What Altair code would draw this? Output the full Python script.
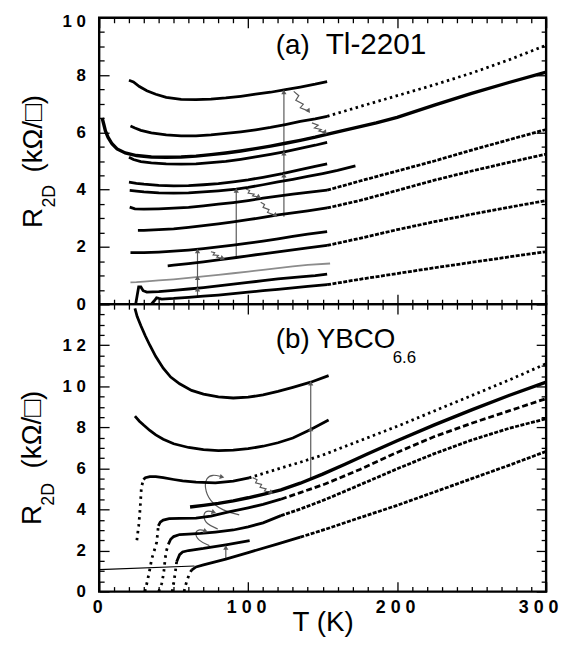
import altair as alt
import pandas as pd

# ================= Panel (a): Tl-2201 =================
A_T = [20, 23, 27, 32, 38, 45, 55, 65, 75, 85, 95, 105, 115, 125, 135, 145, 153]
A_R = [7.82, 7.76, 7.6, 7.45, 7.33, 7.22, 7.15, 7.14, 7.16, 7.2, 7.26, 7.33, 7.4, 7.49, 7.58, 7.68, 7.77]
B_T = [21, 24, 28, 35, 45, 55, 65, 75, 85, 95, 105, 115, 125, 135, 145, 153]
B_R = [6.22, 6.15, 6.07, 5.98, 5.91, 5.88, 5.88, 5.91, 5.96, 6.02, 6.09, 6.17, 6.27, 6.38, 6.47, 6.56]
B2_T = [153, 175, 200, 225, 250, 275, 300]
B2_R = [6.56, 6.9, 7.28, 7.66, 8.07, 8.53, 9.04]
C_T = [2, 3, 4.2, 6, 8.6, 12, 17.5, 25, 35, 45, 55, 65, 75, 85, 95, 105, 115, 125, 135, 145, 152,
       165, 186, 200, 225, 250, 275, 300]
C_R = [6.5, 6.3, 6.05, 5.82, 5.6, 5.42, 5.28, 5.19, 5.14, 5.13, 5.14, 5.17, 5.22, 5.28, 5.35, 5.43,
       5.52, 5.62, 5.72, 5.83, 5.92, 6.08, 6.33, 6.52, 6.95, 7.36, 7.74, 8.1]
D_T = [20, 23, 28, 35, 45, 55, 65, 75, 85, 95, 105, 115, 125, 135, 145, 153]
D_R = [5.13, 5.05, 4.98, 4.93, 4.9, 4.89, 4.9, 4.94, 4.99, 5.06, 5.14, 5.23, 5.33, 5.44, 5.55, 5.65]
E_T = [20, 25, 30, 40, 50, 60, 70, 80, 90, 100, 110, 123, 135, 145, 153]
E_R = [4.26, 4.22, 4.19, 4.15, 4.13, 4.14, 4.17, 4.21, 4.27, 4.34, 4.43, 4.56, 4.7, 4.81, 4.9]
F_T = [20.5, 25, 30, 40, 50, 60, 70, 80, 92, 100, 110, 120, 130, 140, 150, 160, 172]
F_R = [3.97, 3.95, 3.92, 3.89, 3.88, 3.89, 3.92, 3.96, 4.02, 4.08, 4.17, 4.27, 4.36, 4.46, 4.56, 4.67, 4.83]
G_T = [20.5, 24, 30, 40, 50, 60, 70, 80, 90, 100, 110, 120, 130, 140, 153]
G_R = [3.39, 3.33, 3.32, 3.33, 3.35, 3.38, 3.43, 3.49, 3.55, 3.62, 3.7, 3.77, 3.84, 3.9, 3.98]
G2_T = [153, 175, 200, 225, 250, 275, 300]
G2_R = [3.98, 4.3, 4.65, 5.0, 5.38, 5.74, 6.1]
H_T = [26, 30, 40, 50, 60, 70, 80, 90, 100, 110, 120, 130, 140, 153]
H_R = [2.58, 2.58, 2.6, 2.63, 2.68, 2.74, 2.8, 2.87, 2.95, 3.03, 3.12, 3.19, 3.26, 3.36]
H2_T = [153, 175, 200, 225, 250, 275, 300]
H2_R = [3.36, 3.62, 3.97, 4.33, 4.65, 4.95, 5.24]
I_T = [21, 25, 30, 40, 50, 60, 70, 80, 90, 100, 110, 120, 130, 140, 153]
I_R = [1.8, 1.8, 1.8, 1.82, 1.85, 1.89, 1.94, 2.0, 2.06, 2.13, 2.2, 2.28, 2.37, 2.45, 2.53]
J_T = [46, 50, 60, 70, 80, 92, 100, 110, 120, 130, 140, 153]
J_R = [1.34, 1.36, 1.42, 1.48, 1.55, 1.63, 1.69, 1.76, 1.83, 1.9, 1.97, 2.05]
J2_T = [153, 175, 200, 225, 250, 275, 300]
J2_R = [2.05, 2.3, 2.6, 2.88, 3.14, 3.38, 3.62]
K_T = [21, 25, 30, 40, 50, 60, 70, 80, 90, 100, 110, 120, 130, 140, 155]
K_R = [0.76, 0.77, 0.79, 0.83, 0.87, 0.92, 0.97, 1.02, 1.08, 1.14, 1.2, 1.26, 1.32, 1.37, 1.42]
L_T = [24.5, 25.5, 26.5, 28, 29.5, 32, 40, 50, 60, 70, 80, 90, 100, 110, 120, 135, 145, 153]
L_R = [0.0, 0.3, 0.6, 0.6, 0.47, 0.42, 0.44, 0.48, 0.53, 0.58, 0.64, 0.7, 0.76, 0.82, 0.88, 0.95, 1.0, 1.05]
M_T = [35, 37, 38.5, 40, 42, 50, 60, 70, 80, 90, 100, 110, 120, 130, 140, 153]
M_R = [0.0, 0.12, 0.22, 0.2, 0.18, 0.2, 0.24, 0.28, 0.32, 0.37, 0.42, 0.47, 0.52, 0.57, 0.62, 0.68]
M2_T = [153, 175, 200, 225, 250, 275, 300]
M2_R = [0.68, 0.87, 1.07, 1.27, 1.46, 1.65, 1.83]

TOP_CURVES = [
    ("A", "solid", A_T, A_R), ("B", "solid", B_T, B_R), ("B2", "dots", B2_T, B2_R),
    ("C", "thick", C_T, C_R), ("D", "solid", D_T, D_R), ("E", "solid", E_T, E_R),
    ("F", "solid", F_T, F_R), ("G", "solid", G_T, G_R), ("G2", "dense", G2_T, G2_R),
    ("H", "solid", H_T, H_R), ("H2", "dense", H2_T, H2_R), ("I", "solid", I_T, I_R),
    ("J", "solid", J_T, J_R), ("J2", "dense", J2_T, J2_R), ("K", "grey", K_T, K_R),
    ("L", "solid", L_T, L_R), ("M", "solid", M_T, M_R), ("M2", "dense", M2_T, M2_R),
]

# arrows (grey annotations) in panel (a)
TOP_ARROWS = [
    ("a1", "arrow", [66, 66], [0.28, 1.9]),
    ("a2", "arrow", [92, 92], [1.63, 4.02]),
    ("a3", "arrow", [124, 124], [3.05, 7.47]),
    ("z1", "arrow", [130.6, 134, 132, 137, 135, 140.6], [7.43, 7.28, 7.12, 6.98, 6.86, 6.74]),
    ("z2", "arrow", [142.8, 147, 144.5, 149, 147.5, 151.7], [6.33, 6.25, 6.15, 6.1, 6.05, 5.99]),
    ("z3", "arrow", [98.5, 101, 100, 104, 103, 107.3], [4.02, 3.97, 3.88, 3.84, 3.78, 3.74]),
    ("z4", "arrow", [108.4, 111, 110, 114, 113, 118.4], [3.56, 3.48, 3.38, 3.3, 3.2, 3.1]),
    ("z5", "arrow", [75, 77.5, 76.5, 80, 79, 83], [1.83, 1.8, 1.72, 1.7, 1.64, 1.6]),
]
TOP_HEAD_T = [66, 66, 66, 92, 124, 124, 124, 140.6, 151.7, 107.3, 118.4, 83]
TOP_HEAD_R = [0.52, 0.92, 1.86, 3.97, 4.5, 5.27, 7.41, 6.74, 5.99, 3.74, 3.1, 1.6]
TOP_HEAD_A = [0, 0, 0, 0, 0, 0, 0, 145, 145, 120, 135, 110]

# ================= Panel (b): YBCO6.6 =================
P_T = [24, 25.5, 28, 31, 34, 38, 43, 48, 54, 62, 70, 80, 90, 100, 110, 120, 130, 142, 154]
P_R = [13.8, 13.4, 12.95, 12.45, 12.0, 11.45, 10.88, 10.45, 10.12, 9.8, 9.62, 9.48, 9.43, 9.47,
       9.58, 9.75, 9.95, 10.2, 10.52]
Q_T = [24, 27, 30, 34, 38, 43, 50, 60, 70, 80, 90, 100, 110, 120, 130, 142, 154]
Q_R = [8.55, 8.3, 8.1, 7.85, 7.63, 7.42, 7.2, 7.02, 6.92, 6.87, 6.89, 6.96, 7.08, 7.25, 7.48, 7.9, 8.36]
S0_T = [25.3, 25.8, 26.5, 27.2, 27.8, 28.3, 29.7]
S0_R = [2.5, 2.8, 3.2, 3.77, 4.4, 5.06, 5.46]
S1_T = [29.7, 31, 34, 38, 43, 50, 56, 65, 78, 90, 100.6]
S1_R = [5.46, 5.55, 5.6, 5.6, 5.55, 5.46, 5.39, 5.33, 5.3, 5.38, 5.54]
S2_T = [100.6, 110, 122, 135, 150, 175, 200, 225, 250, 275, 300]
S2_R = [5.54, 5.75, 6.02, 6.3, 6.65, 7.35, 8.05, 8.8, 9.55, 10.3, 11.1]
U_T = [61, 70, 80, 90, 100, 110, 122, 135, 150, 165, 180, 200, 225, 250, 275, 300]
U_R = [4.12, 4.2, 4.3, 4.42, 4.57, 4.74, 4.95, 5.28, 5.72, 6.2, 6.7, 7.35, 8.12, 8.85, 9.55, 10.2]
V0_T = [30.7, 32, 33.5, 35.3, 37, 38.6, 39.3, 39.7]
V0_R = [0.0, 0.4, 0.9, 1.6, 2.0, 2.4, 2.9, 3.2]
V1_T = [39.7, 41, 43, 47, 54, 65, 75, 87, 100, 110, 122]
V1_R = [3.2, 3.38, 3.48, 3.55, 3.57, 3.58, 3.68, 3.88, 4.08, 4.25, 4.5]
V2_T = [122, 135, 152, 175, 200, 225, 250, 275, 300]
V2_R = [4.5, 4.82, 5.25, 5.95, 6.78, 7.55, 8.2, 8.8, 9.4]
W0_T = [40, 42, 43.3, 44.3, 45, 46.4]
W0_R = [0.0, 0.4, 0.9, 1.6, 1.95, 2.3]
W1_T = [46.4, 48, 50, 54, 60, 68, 78, 90, 100, 110, 122]
W1_R = [2.3, 2.55, 2.68, 2.78, 2.8, 2.83, 2.9, 3.0, 3.15, 3.35, 3.7]
W2_T = [122, 135, 152, 175, 200, 225, 250, 275, 300]
W2_R = [3.7, 4.02, 4.49, 5.2, 5.98, 6.72, 7.38, 7.95, 8.42]
X0_T = [49, 50, 51, 52]
X0_R = [0.0, 0.4, 0.9, 1.45]
X1_T = [52, 54, 56, 60, 70, 85, 101]
X1_R = [1.45, 1.8, 1.93, 2.0, 2.1, 2.28, 2.48]
Y0_T = [57, 58, 59, 60.5, 62]
Y0_R = [0.0, 0.3, 0.55, 0.85, 1.05]
Y1_T = [62, 65, 70, 85, 100, 120, 135]
Y1_R = [1.05, 1.2, 1.3, 1.58, 1.9, 2.32, 2.65]
Y2_T = [135, 152, 175, 200, 225, 250, 275, 300]
Y2_R = [2.65, 3.04, 3.6, 4.2, 4.85, 5.5, 6.15, 6.83]
FIT_T = [0, 64]
FIT_R = [1.07, 1.25]

BOT_CURVES = [
    ("P", "solid", P_T, P_R), ("Q", "solid", Q_T, Q_R),
    ("S0", "trans", S0_T, S0_R), ("S1", "solid", S1_T, S1_R), ("S2", "dots", S2_T, S2_R),
    ("U", "thick", U_T, U_R),
    ("V0", "trans", V0_T, V0_R), ("V1", "solid", V1_T, V1_R), ("V2", "dash", V2_T, V2_R),
    ("W0", "trans", W0_T, W0_R), ("W1", "solid", W1_T, W1_R), ("W2", "dense", W2_T, W2_R),
    ("X0", "trans", X0_T, X0_R), ("X1", "solid", X1_T, X1_R),
    ("Y0", "trans", Y0_T, Y0_R), ("Y1", "solid", Y1_T, Y1_R), ("Y2", "dense", Y2_T, Y2_R),
    ("fit", "thin", FIT_T, FIT_R),
]
BOT_ARROWS = [
    ("b1", "arrow", [142, 142], [5.45, 10.2]),
    ("b2", "arrow", [85, 85], [1.6, 2.2]),
    ("bz", "arrow", [103, 106, 105, 109, 108, 112, 111, 115.5], [5.55, 5.45, 5.3, 5.22, 5.08, 5.0, 4.9, 4.82]),
    ("c1", "arc", [94, 83, 74, 70.7, 71.8, 76.3, 82], [3.74, 3.93, 4.42, 5.06, 5.55, 5.71, 5.6]),
    ("c2", "arc", [79.6, 71.8, 69.6, 71.8, 77], [3.05, 3.29, 3.69, 3.97, 3.88]),
    ("c3", "arc", [74, 66.3, 64, 67.4, 71.5], [2.24, 2.48, 2.89, 3.05, 2.95]),
]
BOT_HEAD_T = [142, 142, 85, 115.5, 82.5, 77, 71.5]
BOT_HEAD_R = [7.92, 10.15, 2.15, 4.82, 5.58, 3.86, 2.94]
BOT_HEAD_A = [0, 0, 0, 125, 105, 110, 110]

# ---- text annotations: (text, T, R, size, angle, align, baseline) ----
TOP_TEXT = [
    ("(a)", 118.5, 8.72, 28, 0, "left", "alphabetic"),
    ("Tl-2201", 152, 8.72, 30, 0, "left", "alphabetic"),
    ("R", -44, 3.01, 28, 270, "center", "middle"),
    ("2D", -33.3, 3.77, 18, 270, "center", "middle"),
    ("(kΩ/□)", -44, 5.95, 28, 270, "center", "middle"),
]
BOT_TEXT = [
    ("(b) YBCO", 118.5, 11.85, 28, 0, "left", "alphabetic"),
    ("6.6", 197, 11.13, 17, 0, "left", "alphabetic"),
    ("R", -44.6, 3.73, 28, 270, "center", "middle"),
    ("2D", -33.9, 4.74, 18, 270, "center", "middle"),
    ("(kΩ/□)", -44.6, 7.89, 28, 270, "center", "middle"),
]

X_TICKS = list(range(0, 301, 10))
Y_TICKS_A = [v / 2 for v in range(0, 21)]
Y_TICKS_B = [v / 2 for v in range(0, 29)]

GREY = "#5a5a5a"
FONT = "Liberation Sans"
STYLES = {
    "solid": dict(color="black", strokeWidth=2.8),
    "thick": dict(color="black", strokeWidth=3.4),
    "grey": dict(color="#8c8c8c", strokeWidth=1.8),
    "dots": dict(color="black", strokeWidth=2.8, strokeDash=[2.5, 3.5]),
    "dense": dict(color="black", strokeWidth=2.8, strokeDash=[4, 1.5]),
    "dash": dict(color="black", strokeWidth=2.8, strokeDash=[6, 3]),
    "trans": dict(color="black", strokeWidth=2.8, strokeDash=[2.5, 4.5]),
    "thin": dict(color="black", strokeWidth=1.1),
    "arrow": dict(color=GREY, strokeWidth=1.2),
    "arc": dict(color=GREY, strokeWidth=1.2, interpolate="basis"),
}


def to_df(spec):
    rows = []
    for key, style, T, R in spec:
        for i, (t, r) in enumerate(zip(T, R)):
            rows.append({"key": key, "style": style, "T": t, "R": r, "i": i})
    return pd.DataFrame(rows)


SPACED = "join(split(format(datum.value, 'd'), ''), ' ')"


def make_panel(curves, arrows, head_t, head_r, head_a, texts, ydom, yticks, ylabel_test,
               height, xlabels, ylab_offset):
    xs = alt.Scale(domain=[0, 300], nice=False, zero=False)
    ys = alt.Scale(domain=ydom, nice=False, zero=False)
    xtick = {"expr": "datum.value % 100 === 0 ? -10 : -5"}
    ytick = {"expr": "datum.value % 2 === 0 ? -10 : -5"}
    common = dict(minExtent=0, offset=0)
    if xlabels:
        ax_b = alt.Axis(orient="bottom", values=X_TICKS, tickSize=xtick,
                        labelExpr=f"datum.value % 100 === 0 ? {SPACED} : ''",
                        labelFont=FONT, labelFontSize=18, labelFontWeight="bold",
                        labelPadding=17, labelFlush=False, labelOverlap=False,
                        labelOffset={"expr": "datum.value === 300 ? -8 : -2"},
                        title="T  (K)", titleFont=FONT, titleFontSize=28,
                        titleFontWeight="normal", titlePadding=-13, titleColor="black",
                        labelColor="black", **common)
    else:
        ax_b = alt.Axis(orient="bottom", values=X_TICKS, tickSize=xtick, labels=False,
                        title=None, **common)
    ax_l = alt.Axis(orient="left", values=yticks, tickSize=ytick,
                    labelExpr=f"({ylabel_test}) ? {SPACED} : ''",
                    labelFont=FONT, labelFontSize=17, labelFontWeight="bold",
                    labelPadding=24, labelOverlap=False, labelColor="black", title=None,
                    labelOffset={"expr": ylab_offset}, **common)
    ax_t = alt.Axis(orient="top", values=X_TICKS, tickSize=xtick, labels=False, title=None,
                    **common)
    ax_r = alt.Axis(orient="right", values=yticks, tickSize=ytick, labels=False, title=None,
                    **common)

    x_enc = alt.X("T:Q", scale=xs, axis=ax_b)
    y_enc = alt.Y("R:Q", scale=ys, axis=ax_l)

    layers = []
    cdf = to_df(curves + arrows)
    for style in ["arrow", "arc", "thin", "grey", "solid", "thick", "dots", "dense", "dash", "trans"]:
        sub = cdf[cdf["style"] == style]
        if len(sub) == 0:
            continue
        layers.append(
            alt.Chart(sub).mark_line(clip=True, **STYLES[style]).encode(
                x=x_enc, y=y_enc, detail="key:N", order="i:Q")
        )
    heads = pd.DataFrame({"T": head_t, "R": head_r, "ang": head_a})
    layers.append(
        alt.Chart(heads).mark_point(shape="triangle-up", filled=True, size=28, color=GREY,
                                    opacity=1).encode(
            x=x_enc, y=y_enc, angle=alt.Angle("ang:Q", scale=None))
    )
    for (txt, t, r, size, ang, align, base) in texts:
        tdf = pd.DataFrame({"T": [t], "R": [r], "txt": [txt]})
        layers.append(
            alt.Chart(tdf).mark_text(font=FONT, fontSize=size, angle=ang, align=align,
                                     baseline=base, color="black").encode(
                x=x_enc, y=y_enc, text="txt:N")
        )
    inner = alt.layer(*layers)
    carrier = alt.Chart(pd.DataFrame({"T": [0], "R": [0]})).mark_point(opacity=0).encode(
        x=alt.X("T:Q", scale=xs, axis=ax_t), y=alt.Y("R:Q", scale=ys, axis=ax_r))
    return alt.layer(inner, carrier).resolve_scale(x="independent", y="independent").properties(
        width=451, height=height)


top = make_panel(TOP_CURVES, TOP_ARROWS, TOP_HEAD_T, TOP_HEAD_R, TOP_HEAD_A, TOP_TEXT,
                 [0, 10], Y_TICKS_A, "datum.value % 2 === 0", 289, False,
                 "datum.value === 10 ? 3.7 : 0")
bot = make_panel(BOT_CURVES, BOT_ARROWS, BOT_HEAD_T, BOT_HEAD_R, BOT_HEAD_A, BOT_TEXT,
                 [0, 14], Y_TICKS_B, "datum.value % 2 === 0 && datum.value < 14", 290, True,
                 "0")

chart = alt.vconcat(top, bot, spacing=0, bounds="flush").properties(
    padding={"left": 9, "top": 0, "right": 0, "bottom": 0}
).configure_view(stroke="black", strokeWidth=2.4).configure_axis(
    grid=False, domain=False, tickColor="black", tickWidth=1.3
)

chart.save("out.html", embed_options={"renderer": "svg", "actions": False})
